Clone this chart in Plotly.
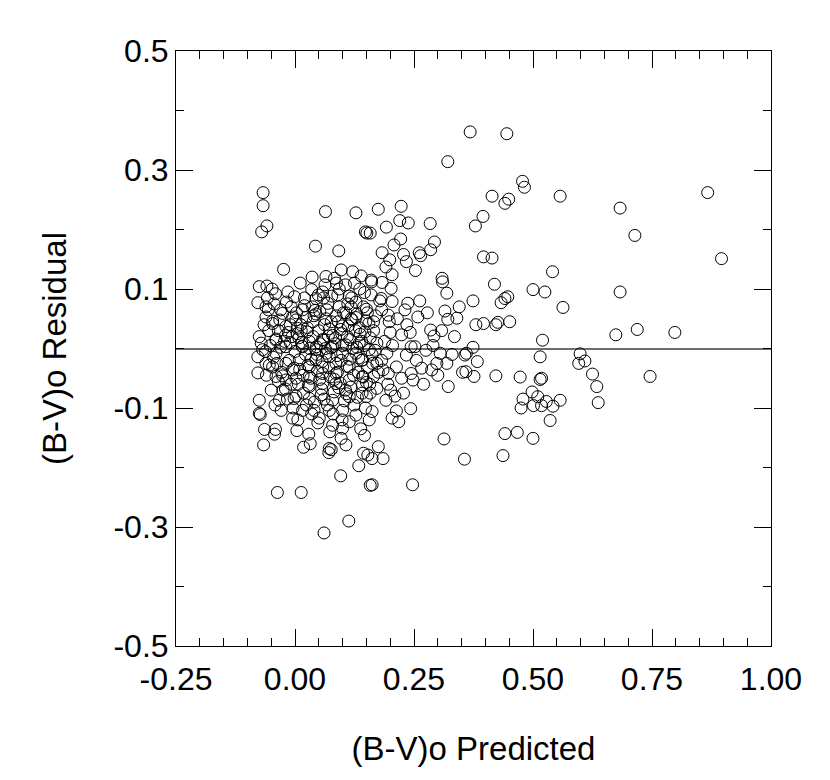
import plotly.graph_objects as go

# ---- data: (B-V)o predicted vs residual ----
pred_sparse = [0.368,0.445,0.321,0.478,0.482,0.414,0.449,0.441,0.557,0.175,0.223,0.395,0.379,0.220,0.238,0.192,0.284,0.158,0.222,0.208,0.293,0.285,0.261,0.264,0.228,0.183,0.199,0.234,0.191,0.253,0.396,0.414,0.541,0.204,0.161,0.183,0.309,0.310,0.202,0.319,0.419,0.500,0.525,0.563,0.447,0.441,0.433,0.374,0.181,0.204,0.237,0.231,0.258,0.182,0.196,0.315,0.321,0.340,0.396,0.380,0.422,0.426,0.451,0.165,0.198,0.285,0.292,0.335,0.374,0.520,0.224,0.242,0.200,0.252,0.172]
resid_sparse = [0.364,0.361,0.314,0.281,0.271,0.256,0.251,0.244,0.256,0.234,0.239,0.222,0.206,0.215,0.211,0.204,0.210,0.194,0.184,0.174,0.179,0.166,0.161,0.156,0.158,0.161,0.149,0.146,0.137,0.131,0.154,0.152,0.129,0.124,0.112,0.111,0.118,0.112,0.101,0.093,0.108,0.099,0.095,0.069,0.087,0.084,0.077,0.080,0.084,0.079,0.076,0.065,0.053,0.065,0.056,0.063,0.049,0.051,0.042,0.040,0.040,0.044,0.045,0.045,0.045,0.031,0.021,0.020,0.002,0.014,0.023,0.027,0.027,0.003,0.009]

pred_mid = [0.515,0.599,0.596,0.609,0.625,0.634,0.637,0.360,0.357,0.383,0.359,0.376,0.422,0.473,0.515,0.518,0.322,0.498,0.510,0.479,0.475,0.501,0.518,0.528,0.542,0.557,0.536,0.441,0.467,0.500,0.437,0.356,0.313,0.247,0.243,0.213,0.204,0.218,0.175,0.185,0.162,0.162,0.201,0.191,0.172,0.158,0.244,0.275,0.305,0.319,0.298,0.287,0.266,0.244,0.248,0.224,0.213,0.196,0.185,0.172,0.193,0.168,0.234,0.165]
resid_mid = [-0.014,-0.009,-0.025,-0.021,-0.043,-0.064,-0.091,-0.008,-0.011,-0.022,-0.039,-0.047,-0.046,-0.048,-0.052,-0.050,-0.064,-0.073,-0.081,-0.085,-0.100,-0.096,-0.096,-0.089,-0.097,-0.087,-0.121,-0.143,-0.141,-0.151,-0.180,-0.186,-0.152,-0.229,-0.101,-0.105,-0.117,-0.123,-0.165,-0.185,-0.229,-0.185,-0.070,-0.087,-0.067,-0.075,0.003,-0.003,-0.008,-0.025,-0.025,-0.036,-0.033,-0.042,-0.053,-0.050,-0.031,-0.042,-0.036,-0.025,-0.008,-0.003,-0.011,-0.047]

pred_far = [0.867,0.683,0.714,0.896,0.683,0.674,0.719,0.798,0.746]
resid_far = [0.262,0.236,0.190,0.151,0.095,0.023,0.032,0.027,-0.047]

pred_upper = [-0.067,-0.067,-0.059,-0.070,0.064,0.128,0.148,0.151,0.043,0.092,-0.024,-0.075,-0.059,-0.041,-0.078,-0.061,-0.001,0.035,0.065,0.083,0.097,0.121,0.139,0.160,0.063,0.106,0.044,0.058,0.090,0.114,0.146,0.118,0.069,0.037,0.016,-0.008,-0.026,-0.061,-0.075,-0.071,-0.047,-0.040,-0.019,-0.005,
              0.002,0.023,0.044,0.065,0.086,0.107,0.128,0.149,0.165,0.135,0.100,0.072,0.050,0.025,0.005,-0.020,-0.035,0.030,0.060,0.085,0.115,0.140,0.158,-0.010,0.015,0.045,0.075,0.100,0.130,-0.030,-0.055,0.012,0.038,0.093,0.128,0.150,0.077,0.020,-0.015,0.052]
resid_upper = [0.262,0.240,0.206,0.196,0.230,0.228,0.196,0.194,0.172,0.164,0.133,0.104,0.105,0.092,0.077,0.070,0.087,0.099,0.121,0.118,0.132,0.129,0.122,0.115,0.107,0.107,0.084,0.095,0.090,0.088,0.094,0.070,0.076,0.070,0.065,0.070,0.059,0.053,0.020,0.009,0.042,0.014,0.037,0.053,
               0.048,0.052,0.058,0.050,0.055,0.060,0.052,0.046,0.030,0.035,0.038,0.033,0.030,0.028,0.025,0.022,0.030,0.012,0.014,0.018,0.015,0.012,0.018,0.010,0.004,0.003,0.001,0.005,0.002,0.002,0.030,0.040,0.045,0.070,0.078,0.066,0.088,0.085,0.095,0.062]

pred_lower = [-0.078,-0.078,-0.075,-0.075,-0.073,-0.064,-0.041,-0.043,-0.066,-0.033,-0.029,0.006,0.004,0.029,0.018,0.032,0.072,0.071,0.076,0.097,0.107,0.144,0.153,0.134,0.158,0.096,-0.037,0.013,0.113,0.061,0.146,0.150,0.156,0.162,0.142,0.150,
              -0.002,0.030,0.040,0.016,-0.005,0.051,0.079,0.100,0.114,0.128,0.100,0.072,0.079,0.114,0.055,0.030,0.058,0.086,0.114,0.142,0.086,0.058,0.030,0.002,-0.019,-0.040,-0.047,-0.019,0.009,0.044,0.072,0.100,0.128,0.156,0.142,0.114,0.086,0.058,0.030,-0.005,-0.040,-0.019,0.016,0.044,0.079,0.107,0.135,0.163,-0.061,-0.068]
resid_lower = [-0.014,-0.041,-0.087,-0.109,-0.111,-0.136,-0.136,-0.144,-0.162,-0.087,-0.104,-0.120,-0.138,-0.144,-0.166,-0.160,-0.168,-0.175,-0.170,-0.151,-0.162,-0.176,-0.179,-0.197,-0.230,-0.214,-0.242,-0.242,-0.290,-0.310,-0.146,-0.081,-0.120,-0.106,-0.061,-0.057,
               -0.084,-0.084,-0.104,-0.104,-0.117,-0.117,-0.129,-0.134,-0.123,-0.112,-0.104,-0.104,-0.087,-0.081,-0.078,-0.064,-0.059,-0.059,-0.053,-0.047,-0.042,-0.042,-0.047,-0.050,-0.053,-0.047,-0.031,-0.025,-0.019,-0.019,-0.014,-0.008,-0.008,-0.002,-0.019,-0.031,-0.025,-0.031,-0.031,-0.036,-0.008,0.003,0.003,-0.002,0.003,0.006,0.009,-0.025,-0.025,-0.002]

pred_core = [-0.052,-0.045,-0.035,-0.025,-0.012,-0.008,0.000,0.008,0.010,0.018,0.022,0.026,0.033,0.038,0.041,0.047,0.053,0.056,0.062,0.066,0.068,0.074,0.079,0.082,0.088,0.091,0.095,0.098,0.104,0.109,0.112,0.117,0.121,0.124,0.130,0.133,0.137,0.141,0.145,0.152,0.155,
             -0.060,-0.056,-0.050,-0.044,-0.038,-0.032,-0.028,-0.022,-0.016,-0.010,-0.004,0.003,0.007,0.013,0.017,0.020,0.027,0.031,0.035,0.040,0.046,0.049,0.052,0.058,0.061,0.067,0.071,0.076,0.080,0.084,0.089,0.093,0.097,0.102,0.106,0.110,0.115,0.119,0.123,0.127,0.131,0.136,0.140,0.144,0.148,0.152,0.157,0.160,0.162,
             -0.065,-0.062,-0.058,-0.048,-0.042,-0.030,-0.018,-0.006,0.002,0.011,0.024,0.036,0.048,0.060,0.073,0.087,0.099,0.111,0.125,0.138,0.169,0.175,0.178,0.182,0.188,0.195,0.205,0.210,0.215,0.228,0.235,0.255,0.262,0.270,0.278,0.290,0.300,0.308,0.330,0.345,0.352,
             -0.054,-0.040,-0.026,-0.014,-0.002,0.014,0.028,0.042,0.057,0.070,0.083,0.096,0.108,0.120,0.134,0.147,-0.047,-0.020,0.005,0.034,0.064,0.092,0.118,0.143]
resid_core = [0.005,-0.015,-0.055,-0.070,-0.020,-0.060,-0.005,0.018,-0.035,-0.075,-0.010,0.035,-0.050,0.020,-0.090,-0.038,0.008,-0.068,0.040,-0.008,-0.095,-0.048,0.022,-0.073,-0.012,0.045,-0.058,0.025,-0.088,-0.030,0.038,-0.065,0.000,-0.095,0.058,-0.040,0.024,-0.075,0.005,-0.032,0.042,
              -0.045,0.065,-0.070,0.075,-0.025,0.048,-0.040,0.012,-0.085,0.040,-0.100,0.060,-0.060,0.030,-0.045,0.072,-0.028,0.000,-0.110,0.055,-0.010,0.090,-0.052,0.015,-0.085,0.065,-0.032,0.045,-0.110,0.008,-0.040,0.100,-0.020,0.060,-0.070,0.020,-0.018,0.085,-0.045,0.030,-0.082,0.100,-0.020,0.070,-0.100,0.060,-0.060,0.090,-0.010,
              0.040,-0.005,0.085,0.100,-0.095,0.065,0.078,0.020,-0.080,0.110,-0.095,0.120,-0.125,0.085,-0.140,0.110,-0.120,0.075,0.110,-0.135,0.055,-0.040,0.080,-0.020,0.012,-0.060,0.005,-0.080,0.050,-0.075,0.040,-0.020,0.080,-0.060,0.060,0.005,-0.045,0.030,-0.010,0.070,-0.040,
              -0.028,0.016,-0.046,0.027,-0.033,0.010,-0.062,0.064,-0.022,0.021,-0.052,0.032,-0.076,0.048,-0.016,0.028,0.046,-0.068,0.034,-0.018,0.000,-0.066,0.050,-0.048]

pred = pred_sparse + pred_mid + pred_far + pred_upper + pred_lower + pred_core
resid = resid_sparse + resid_mid + resid_far + resid_upper + resid_lower + resid_core

x_ticks = [-0.25, 0.0, 0.25, 0.5, 0.75, 1.0]
x_labels = ["-0.25", "0.00", "0.25", "0.50", "0.75", "1.00"]
y_ticks = [-0.5, -0.3, -0.1, 0.1, 0.3, 0.5]
y_labels = ["-0.5", "-0.3", "-0.1", "0.1", "0.3", "0.5"]

FONT = "Liberation Sans, Arial, sans-serif"

fig = go.Figure()
fig.add_trace(go.Scatter(
    x=pred, y=resid, mode="markers",
    marker=dict(symbol="circle-open", size=12, color="black", line=dict(width=1)),
    showlegend=False,
))

axis_common = dict(
    showline=True, linecolor="black", linewidth=1, mirror="allticks",
    ticks="inside", ticklen=17, tickwidth=1, tickcolor="black",
    showgrid=False,
    tickfont=dict(family=FONT, size=32, color="black"),
)

fig.update_xaxes(
    **axis_common,
    range=[-0.25, 1.0], tickmode="array", tickvals=x_ticks, ticktext=x_labels,
    zeroline=False, ticklabelstandoff=5,
    minor=dict(dtick=0.05, tick0=0, ticks="inside", ticklen=8, tickcolor="black", showgrid=False),
    title=dict(text="(B-V)o Predicted", font=dict(family=FONT, size=33, color="black"), standoff=40),
)
fig.update_yaxes(
    **axis_common,
    range=[-0.5, 0.5], tickmode="array", tickvals=y_ticks, ticktext=y_labels,
    zeroline=True, zerolinecolor="#6e6e6e", zerolinewidth=1.5,
    minor=dict(dtick=0.1, tick0=0, ticks="inside", ticklen=8, tickcolor="black", showgrid=False),
    title=dict(text="(B-V)o Residual", font=dict(family=FONT, size=33, color="black"), standoff=36),
)

fig.update_layout(
    width=830, height=780,
    margin=dict(l=168, r=67, t=43, b=142),
    plot_bgcolor="white", paper_bgcolor="white",
    font=dict(family=FONT, color="black"),
)

fig.write_html("out.html")
